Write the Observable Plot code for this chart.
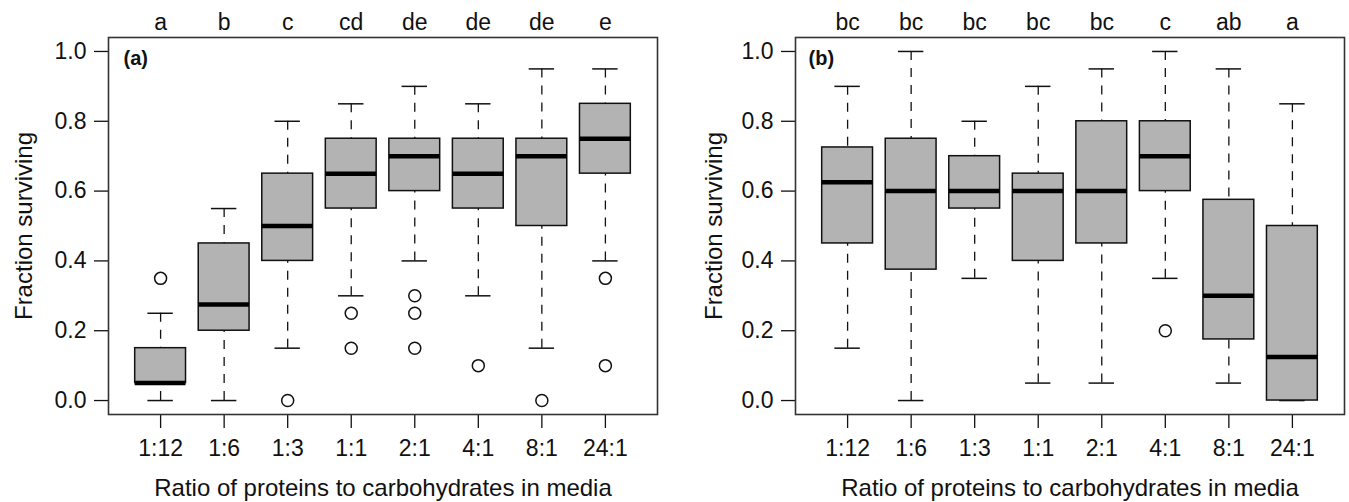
<!DOCTYPE html>
<html><head><meta charset="utf-8">
<script src="https://cdn.jsdelivr.net/npm/d3@7"></script>
<script src="https://cdn.jsdelivr.net/npm/@observablehq/plot@0.6"></script>
<style>
body{margin:0;background:#fff;}
#row{display:flex;width:1349px;height:502px;overflow:hidden;}
svg{display:block;}
</style></head><body><div id="row"></div>
<script>
const categories = ["1:12","1:6","1:3","1:1","2:1","4:1","8:1","24:1"];
const yTicks = [0, 0.2, 0.4, 0.6, 0.8, 1.0];
const yTitle = "Fraction surviving";
const xTitle = "Ratio of proteins to carbohydrates in media";

// Panel (a)
const lettersA  = ["a","b","c","cd","de","de","de","e"];
const lowA  = [0,    0,     0.15, 0.30, 0.40, 0.30, 0.15, 0.40];
const q1A   = [0.05, 0.20,  0.40, 0.55, 0.60, 0.55, 0.50, 0.65];
const medA  = [0.05, 0.275, 0.50, 0.65, 0.70, 0.65, 0.70, 0.75];
const q3A   = [0.15, 0.45,  0.65, 0.75, 0.75, 0.75, 0.75, 0.85];
const highA = [0.25, 0.55,  0.80, 0.85, 0.90, 0.85, 0.95, 0.95];
const outliersA = [[0.35], [], [0], [0.25, 0.15], [0.30, 0.25, 0.15], [0.10], [0], [0.35, 0.10]];

// Panel (b)
const lettersB  = ["bc","bc","bc","bc","bc","c","ab","a"];
const lowB  = [0.15,  0,     0.35, 0.05, 0.05, 0.35, 0.05,  0];
const q1B   = [0.45,  0.375, 0.55, 0.40, 0.45, 0.60, 0.175, 0];
const medB  = [0.625, 0.60,  0.60, 0.60, 0.60, 0.70, 0.30,  0.125];
const q3B   = [0.725, 0.75,  0.70, 0.65, 0.80, 0.80, 0.575, 0.50];
const highB = [0.90,  1.00,  0.80, 0.90, 0.95, 1.00, 0.95,  0.85];
const outliersB = [[], [], [], [], [], [0.20], [], []];

const FONT = "'Liberation Sans', Arial, Helvetica, sans-serif";
const HALF = 0.4, CAP = 0.2;

function panel({tag, letters, low, q1, med, q3, high, outliers, width, marginLeft, marginRight, yLabelOffset, tagDx}) {
  const rows = categories.map((c, i) => ({idx: i + 1, cat: c, low: low[i], q1: q1[i], med: med[i], q3: q3[i], high: high[i]}));
  const outs = outliers.flatMap((arr, i) => arr.map(v => ({idx: i + 1, v})));
  const idxTicks = categories.map((c, i) => i + 1);
  return Plot.plot({
    width, height: 502,
    marginLeft, marginRight, marginTop: 37, marginBottom: 88,
    style: {fontFamily: FONT, fontSize: "23px", background: "white", color: "#111"},
    x: {domain: [0.18, 8.82]},
    y: {domain: [-0.04, 1.04]},
    marks: [
      Plot.axisY({ticks: yTicks, tickFormat: d3.format(".1f"), tickSize: 14, tickPadding: 8, label: null, strokeWidth: 1.3}),
      Plot.axisY({ticks: [], label: yTitle, labelAnchor: "center", labelOffset: yLabelOffset, fontSize: 24, labelArrow: "none"}),
      Plot.axisX({ticks: idxTicks, tickFormat: i => categories[i - 1], tickSize: 14, tickPadding: 11, label: null, strokeWidth: 1.3}),
      Plot.axisX({ticks: [], label: xTitle, labelAnchor: "center", labelOffset: 81, fontSize: 24, labelArrow: "none"}),
      Plot.axisX({anchor: "top", ticks: idxTicks, tickFormat: i => letters[i - 1], tickSize: 0, tickPadding: 8, label: null}),
      Plot.ruleX(rows, {x: "idx", y1: "low", y2: "q1", stroke: "#111", strokeWidth: 1.3, strokeDasharray: "9,8"}),
      Plot.ruleX(rows, {x: "idx", y1: "high", y2: "q3", stroke: "#111", strokeWidth: 1.3, strokeDasharray: "9,8"}),
      Plot.ruleY(rows, {y: "low", x1: d => d.idx - CAP, x2: d => d.idx + CAP, stroke: "#111", strokeWidth: 1.5}),
      Plot.ruleY(rows, {y: "high", x1: d => d.idx - CAP, x2: d => d.idx + CAP, stroke: "#111", strokeWidth: 1.5}),
      Plot.rect(rows, {x1: d => d.idx - HALF, x2: d => d.idx + HALF, y1: "q1", y2: "q3", fill: "#b3b3b3", stroke: "#111", strokeWidth: 1.5}),
      Plot.ruleY(rows, {y: "med", x1: d => d.idx - HALF, x2: d => d.idx + HALF, stroke: "#000", strokeWidth: 4.5}),
      Plot.dot(outs, {x: "idx", y: "v", r: 6, stroke: "#111", fill: "white", strokeWidth: 1.5}),
      Plot.frame({stroke: "#333", strokeWidth: 1.6}),
      Plot.text([tag], {text: d => d, frameAnchor: "top-left", dx: tagDx, dy: 13, lineAnchor: "top", textAnchor: "start", fontSize: 20, fontWeight: "bold"})
    ]
  });
}

const row = document.getElementById("row");
row.appendChild(panel({tag: "(a)", letters: lettersA, low: lowA, q1: q1A, med: medA, q3: q3A, high: highA, outliers: outliersA,
  width: 675, marginLeft: 108, marginRight: 18, yLabelOffset: 94, tagDx: 15}));
row.appendChild(panel({tag: "(b)", letters: lettersB, low: lowB, q1: q1B, med: medB, q3: q3B, high: highB, outliers: outliersB,
  width: 674, marginLeft: 120, marginRight: 5, yLabelOffset: 91, tagDx: 13}));
</script></body></html>
